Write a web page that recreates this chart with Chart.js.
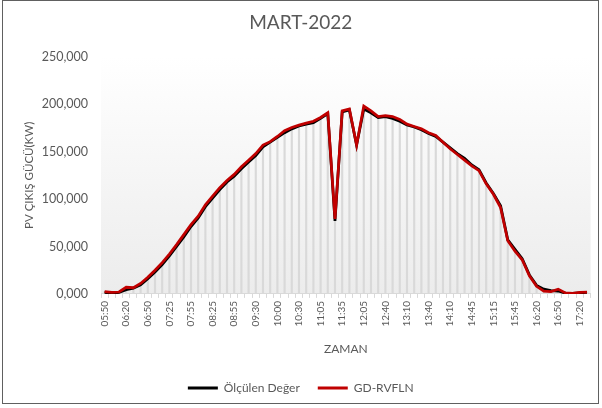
<!DOCTYPE html>
<html>
<head>
<meta charset="utf-8">
<script src="https://cdn.jsdelivr.net/npm/chart.js@4/dist/chart.umd.min.js"></script>
<style>
    body { margin: 0; background: #ffffff; }
</style>
</head>
<body>
<canvas id="pv-chart" width="602" height="408"></canvas>
<script>
//time of each measurement (only every 3rd one is written under the axis)
const times = [
    '05:50', '06:00', '06:10', '06:20', '06:30', '06:40', '06:50', '07:05', '07:15', '07:25',
    '07:35', '07:45', '07:55', '08:05', '08:15', '08:25', '08:35', '08:45', '08:55', '09:10',
    '09:20', '09:30', '09:40', '09:50', '10:00', '10:10', '10:20', '10:30', '10:45', '10:55',
    '11:05', '11:15', '11:25', '11:35', '11:45', '11:55', '12:05', '12:20', '12:30', '12:40',
    '12:50', '13:00', '13:10', '13:20', '13:30', '13:40', '13:50', '14:00', '14:10', '14:25',
    '14:35', '14:45', '14:55', '15:05', '15:15', '15:25', '15:35', '15:45', '16:00', '16:10',
    '16:20', '16:30', '16:40', '16:50', '17:00', '17:10', '17:20', '17:30'
];
//measured PV output (kW)
const measured = [
    1500, 800, 1500, 4500, 6000, 9500, 16000, 23000, 31000, 40000,
    50000, 60000, 71000, 80000, 92000, 101000, 110000, 118000, 124000, 132000,
    139000, 146000, 155000, 160000, 165000, 170000, 174000, 177000, 179000, 180500,
    185000, 190000, 77000, 192000, 194000, 157000, 195000, 191000, 186000, 187000,
    185000, 182000, 178000, 176000, 173000, 169000, 166000, 160000, 154000, 148000,
    143000, 136000, 131000, 117000, 106000, 93000, 57000, 47000, 37000, 20000,
    9000, 5000, 3500, 3000, 800, 500, 1200, 1500
];
//GD-RVFLN model output (kW)
const predicted = [
    2500, 1500, 2000, 7000, 6500, 11000, 17500, 25000, 33000, 42000,
    52000, 62500, 73000, 82000, 94000, 103000, 112000, 119500, 126000, 134000,
    141000, 148000, 157000, 160500, 166000, 172000, 175500, 178000, 180000, 182000,
    186000, 191000, 79000, 193000, 195000, 157000, 198000, 193000, 187000, 188000,
    187000, 184000, 179000, 176500, 174000, 170000, 167000, 160000, 153000, 147000,
    141000, 135000, 130000, 116000, 105000, 91000, 56000, 45000, 36000, 19000,
    8000, 3000, 2500, 5000, 1000, 500, 1500, 1800
];
//y axis tick labels, as written on the chart
const yTickLabels = ['0,000', '50,000', '100,000', '150,000', '200,000', '250,000'];
const seriesNames = ['Ölçülen Değer', 'GD-RVFLN'];

//drop lines go from the higher of the two series down to the axis
const dropLines = measured.map((v, i) => Math.max(v, predicted[i]));

//fills the plot area with the white-to-grey gradient and draws the outer frame
const backgroundPlugin = {
    id: 'background',
    beforeDraw(chart) {
        const ctx = chart.ctx;
        const area = chart.chartArea;
        ctx.save();
        ctx.fillStyle = '#ffffff';
        ctx.fillRect(0, 0, chart.width, chart.height);
        const grad = ctx.createLinearGradient(0, area.top, 0, area.bottom);
        grad.addColorStop(0, '#ffffff');
        grad.addColorStop(1, '#ececec');
        ctx.fillStyle = grad;
        ctx.fillRect(area.left, area.top, area.right - area.left, area.bottom - area.top);
        ctx.restore();
    },
    afterDraw(chart) {
        const ctx = chart.ctx;
        ctx.save();
        ctx.strokeStyle = '#606060';
        ctx.lineWidth = 1;
        ctx.strokeRect(2.5, 0.5, 596, 403);
        ctx.restore();
    }
};

//legend entries without the dataset border, so the key is a thin line
function legendLabels(chart) {
    const items = Chart.defaults.plugins.legend.labels.generateLabels(chart);
    return items.filter(item => item.datasetIndex < 2).map(item => {
        item.lineWidth = 0;
        return item;
    });
}

const grey = '#595959';
const canvas = document.getElementById('pv-chart');

new Chart(canvas, {
    type: 'line',
    data: {
        labels: times,
        datasets: [
            {
                label: seriesNames[0],
                data: measured,
                borderColor: '#000000',
                backgroundColor: '#000000',
                borderWidth: 2.75,
                pointRadius: 0,
                order: 2
            },
            {
                label: seriesNames[1],
                data: predicted,
                borderColor: '#c00000',
                backgroundColor: '#c00000',
                borderWidth: 2.75,
                pointRadius: 0,
                order: 1
            },
            {
                type: 'bar',
                label: 'drop',
                data: dropLines,
                backgroundColor: '#d9d9d9',
                barThickness: 1.5,
                order: 3
            }
        ]
    },
    options: {
        responsive: false,
        animation: false,
        devicePixelRatio: 1,
        layout: { padding: { left: 2, right: 2.5, top: 0, bottom: 4 } },
        plugins: {
            tooltip: { enabled: false },
            title: {
                display: true,
                text: 'MART-2022',
                color: grey,
                font: { family: 'Lato', size: 19, weight: 'normal' },
                padding: { top: 11, bottom: 23 }
            },
            legend: {
                position: 'bottom',
                labels: {
                    generateLabels: legendLabels,
                    sort: (a, b) => a.datasetIndex - b.datasetIndex,
                    boxWidth: 30,
                    boxHeight: 3,
                    color: grey,
                    padding: 18,
                    font: { family: 'Lato', size: 12 }
                }
            }
        },
        scales: {
            x: {
                offset: true,
                grid: {
                    display: true,
                    drawOnChartArea: false,
                    drawTicks: true,
                    tickLength: 4,
                    color: '#d9d9d9'
                },
                border: { display: true, color: '#d9d9d9' },
                ticks: {
                    autoSkip: false,
                    minRotation: 90,
                    maxRotation: 90,
                    padding: 3,
                    color: grey,
                    font: { family: 'Lato', size: 10 },
                    callback: (val, idx) => idx % 3 === 0 ? times[idx] : ''
                },
                title: {
                    display: true,
                    text: 'ZAMAN',
                    color: grey,
                    font: { family: 'Lato', size: 12 },
                    padding: { top: 12, bottom: 8 }
                }
            },
            y: {
                min: 0,
                max: 250000,
                grid: { display: false },
                border: { display: false },
                ticks: {
                    stepSize: 50000,
                    color: grey,
                    padding: 5,
                    font: { family: 'Lato', size: 12.5 },
                    callback: val => yTickLabels[val / 50000]
                },
                title: {
                    display: true,
                    text: 'PV ÇIKIŞ GÜCÜ(KW)',
                    color: grey,
                    font: { family: 'Lato', size: 11.5 },
                    padding: { top: 20, bottom: 4 }
                },
                afterFit: scale => { scale.width = 99; }
            }
        }
    },
    plugins: [backgroundPlugin]
});
</script>
</body>
</html>
